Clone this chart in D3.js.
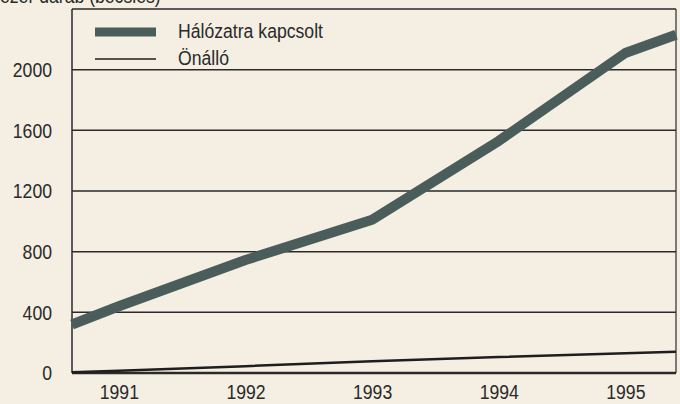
<!DOCTYPE html>
<html>
<head>
<meta charset="utf-8">
<script src="https://cdn.jsdelivr.net/npm/d3@7"></script>
<style>
  body { margin: 0; background: #f4efe2; }
  svg { display: block; }
</style>
</head>
<body>
<svg width="680" height="404"></svg>
<script>
// data (years as positions on the time axis)
var years = [1990.63, 1991, 1992, 1993, 1994, 1995, 1995.4];
var halozatra = [320, 440, 745, 1010, 1530, 2110, 2230];
var onallo = [5, 15, 45, 78, 105, 130, 140];
var yTicks = [0, 400, 800, 1200, 1600, 2000];
var xLabels = [1991, 1992, 1993, 1994, 1995];
var seriesNames = ["Hálózatra kapcsolt", "Önálló"];

var svg = d3.select("svg"),
    width = +svg.attr("width"),
    height = +svg.attr("height");

var font = "'Liberation Sans', Arial, sans-serif";
var fsize = 21, squeeze = 0.84;   // narrow look of the printed type
var ink = "#2a2a2a";

var plotL = 72, plotR = 676, plotT = 9, plotB = 373;

var x = d3.scaleLinear().domain([years[0], years[years.length - 1]]).range([plotL, plotR]);
var y = d3.scaleLinear().domain([0, 2400]).range([plotB, plotT]);

// paper
svg.append("rect").attr("width", width).attr("height", height).attr("fill", "#f4efe2");

// cut-off unit caption at the very top
svg.append("text")
    .attr("transform", "translate(0,3) scale(" + squeeze + ",1)")
    .attr("font-family", font).attr("font-size", fsize)
    .attr("fill", ink)
    .text("ezer darab (becslés)");

// grid lines
svg.append("g")
  .selectAll("line")
  .data(yTicks.concat([2400]))
  .enter().append("line")
    .attr("x1", plotL).attr("x2", plotR)
    .attr("y1", function(d) { return y(d); })
    .attr("y2", function(d) { return y(d); })
    .attr("stroke", ink)
    .attr("stroke-width", function(d) { return d == 0 ? 2.5 : 1.5; });

// frame sides
svg.append("line")
    .attr("x1", plotL).attr("x2", plotL).attr("y1", plotT).attr("y2", plotB)
    .attr("stroke", ink).attr("stroke-width", 1.5);
svg.append("line")
    .attr("x1", plotR).attr("x2", plotR).attr("y1", plotT).attr("y2", plotB)
    .attr("stroke", ink).attr("stroke-width", 1.2);

// y axis labels
var yAxis = d3.axisLeft(y).tickValues(yTicks).tickSize(0).tickPadding(0)
    .tickFormat(d3.format("d"));
var gy = svg.append("g").attr("transform", "translate(52,0)").call(yAxis);
gy.select(".domain").remove();
gy.selectAll("text")
    .attr("x", 0)
    .attr("transform", "scale(" + squeeze + ",1)")
    .attr("font-family", font).attr("font-size", fsize).attr("fill", ink);

// x axis labels
var xAxis = d3.axisBottom(x).tickValues(xLabels).tickSize(0).tickPadding(11)
    .tickFormat(d3.format("d"));
var gx = svg.append("g").attr("transform", "translate(0," + plotB + ")").call(xAxis);
gx.select(".domain").remove();
gx.selectAll("text")
    .attr("transform", "scale(" + squeeze + ",1)")
    .attr("font-family", font).attr("font-size", fsize).attr("fill", ink);

var line = d3.line()
    .x(function(d) { return x(d[0]); })
    .y(function(d) { return y(d[1]); });

svg.append("path")
    .datum(d3.zip(years, onallo))
    .attr("d", line)
    .attr("fill", "none")
    .attr("stroke", "#1e1e1e")
    .attr("stroke-width", 2.5);

svg.append("path")
    .datum(d3.zip(years, halozatra))
    .attr("d", line)
    .attr("fill", "none")
    .attr("stroke", "#4b5d5b")
    .attr("stroke-width", 10)
    .attr("stroke-linejoin", "round");

// legend
var lg = svg.append("g").selectAll("g")
    .data(seriesNames)
    .enter().append("g")
    .attr("transform", function(d, i) { return "translate(95," + (32 + i * 27) + ")"; });
lg.append("line")
    .attr("x1", 0).attr("x2", 61)
    .attr("stroke", function(d, i) { return i == 0 ? "#4b5d5b" : "#1e1e1e"; })
    .attr("stroke-width", function(d, i) { return i == 0 ? 9 : 1.5; });
lg.append("text")
    .attr("transform", "translate(83," + (-1) + ") scale(" + squeeze + ",1)")
    .attr("dy", "0.35em")
    .attr("font-family", font).attr("font-size", fsize).attr("fill", ink)
    .text(function(d) { return d; });
</script>
</body>
</html>
